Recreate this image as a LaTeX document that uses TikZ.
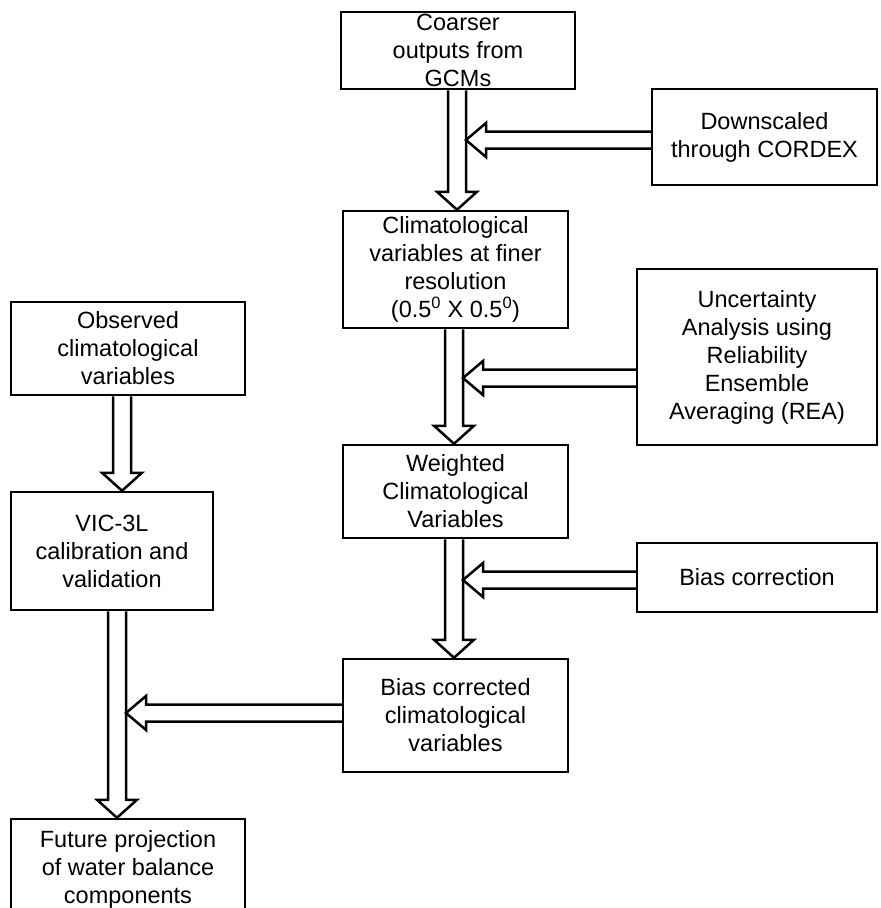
\documentclass[tikz,border=0pt]{standalone}
\usepackage{fontspec}
\setmainfont{Liberation Sans}
\usetikzlibrary{calc}

% hollow block arrow going down: [xshift of shaft]{from}{to}
\newcommand{\vblock}[3][0pt]{%
  \draw[blk] let \p1=([xshift=#1]#2.south), \p2=(#3.north) in
    (\x1-9pt,\y1) -- (\x1-9pt,\y2+18pt) -- (\x1-20pt,\y2+18pt) -- (\x1,\y2)
    -- (\x1+20pt,\y2+18pt) -- (\x1+9pt,\y2+18pt) -- (\x1+9pt,\y1);}
% hollow block arrow going left onto a shaft: [yshift]{from}{column node}{column xshift}
\newcommand{\hblock}[4][0pt]{%
  \draw[blk] let \p1=([yshift=#1]#2.west), \p2=([xshift=#4]#3.south) in
    (\x1,\y1+8.5pt) -- (\x2+29pt,\y1+8.5pt) -- (\x2+29pt,\y1+17pt) -- (\x2+9pt,\y1)
    -- (\x2+29pt,\y1-17pt) -- (\x2+29pt,\y1-8.5pt) -- (\x1,\y1-8.5pt);}

\begin{document}
\begin{tikzpicture}[x=1pt, y=-1pt,
  flowbox/.style={draw, line width=2.5pt, align=center, inner sep=0pt, font=\fontsize{23.5}{28}\selectfont},
  blk/.style={line width=2.5pt}
]
  \useasboundingbox (0,0) rectangle (881,908);
  \clip (0,0) rectangle (881,908);

  % middle column
  \node[flowbox, minimum width=234pt, minimum height=77pt] (gcm) at (458,50.5) {Coarser\\outputs from\\GCMs};
  \node[flowbox, minimum width=225pt, minimum height=117pt] (clim) at (455.5,269.5) {Climatological\\variables at finer\\resolution\\(0.5\textsuperscript{0} X 0.5\textsuperscript{0})};
  \node[flowbox, minimum width=225pt, minimum height=93pt] (wtd) at (455.5,491.5) {Weighted\\Climatological\\Variables};
  \node[flowbox, minimum width=225pt, minimum height=113pt] (bcv) at (455.5,715.5) {Bias corrected\\climatological\\variables};

  % right column
  \node[flowbox, minimum width=225pt, minimum height=96pt] (cordex) at (764.5,137) {Downscaled\\through CORDEX};
  \node[flowbox, minimum width=240pt, minimum height=176pt] (rea) at (757,357) {Uncertainty\\Analysis using\\Reliability\\Ensemble\\Averaging (REA)};
  \node[flowbox, minimum width=240pt, minimum height=69pt] (bias) at (757,577.5) {Bias correction};

  % left column
  \node[flowbox, minimum width=234pt, minimum height=93pt] (obs) at (128,348.5) {Observed\\climatological\\variables};
  \node[flowbox, minimum width=202pt, minimum height=118pt] (vic) at (112,551) {VIC-3L\\calibration and\\validation};
  \node[flowbox, minimum width=234pt, minimum height=100pt] (future) at (128,869) {Future projection\\of water balance\\components};

  % arrows
  \vblock[-1pt]{gcm}{clim}
  \vblock[-1.5pt]{clim}{wtd}
  \vblock[-1.5pt]{wtd}{bcv}
  \vblock[-6pt]{obs}{vic}
  \vblock[5pt]{vic}{future}
  \hblock[-3pt]{cordex}{gcm}{-1pt}
  \hblock[-21pt]{rea}{clim}{-1.5pt}
  \hblock[-2.5pt]{bias}{wtd}{-1.5pt}
  \hblock[2.5pt]{bcv}{vic}{5pt}
\end{tikzpicture}
\end{document}
